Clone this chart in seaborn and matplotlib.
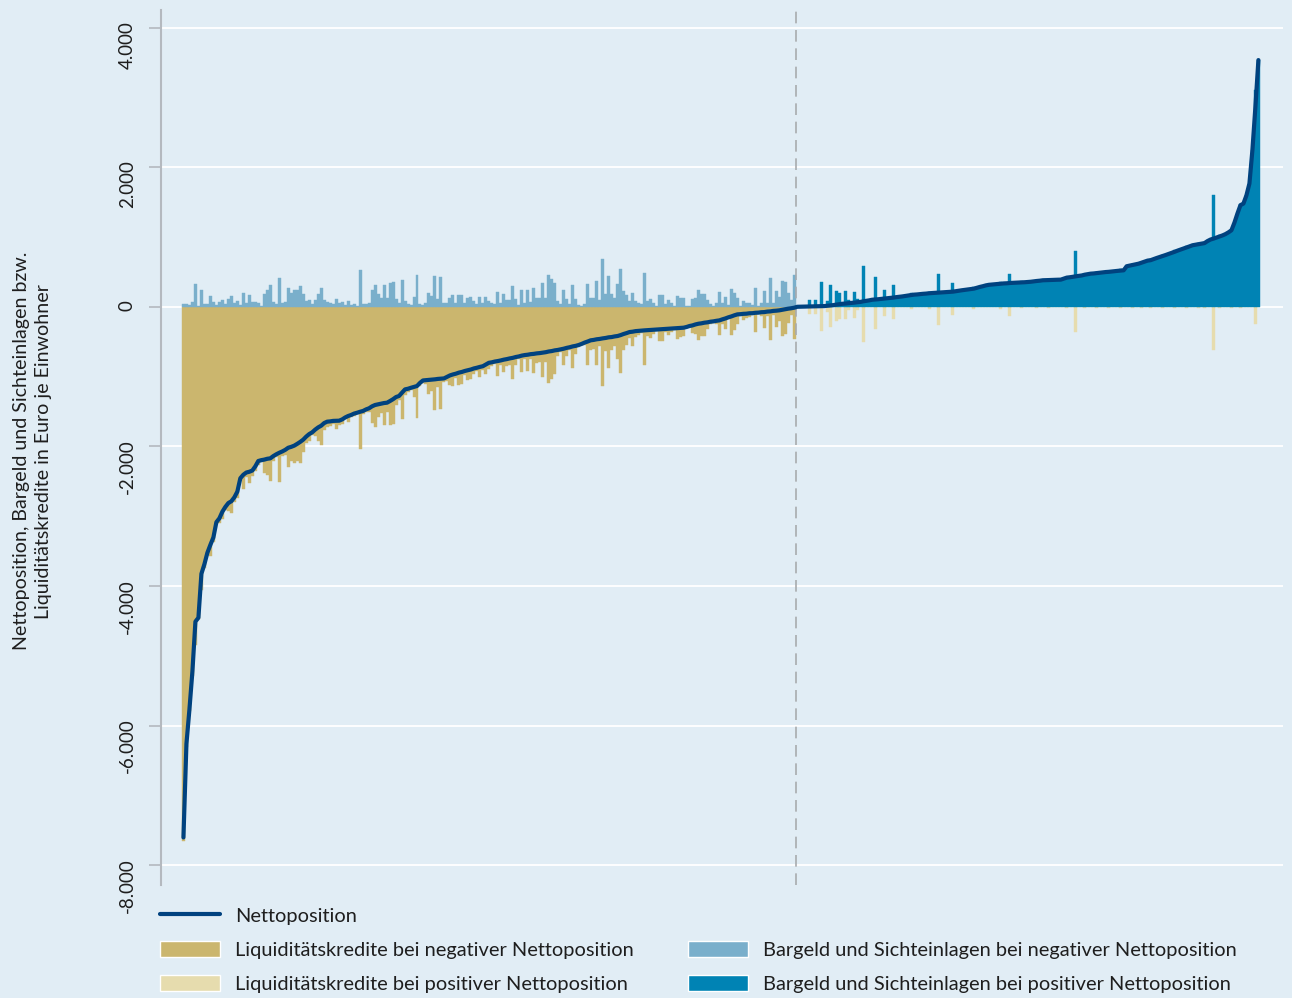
import numpy as np
import pandas as pd
import matplotlib
matplotlib.use("Agg")
import matplotlib.pyplot as plt
from matplotlib.lines import Line2D
from matplotlib.patches import Patch
import seaborn as sns

# Gemeinden mit negativer Nettoposition (sortiert), Euro je Einwohner
netto_neg = [
    -7605, -6263, -5770, -5222, -4510, -4455, -3825, -3688, -3523, -3410,
    -3304, -3085, -3030, -2935, -2866, -2811, -2785, -2729, -2647, -2455,
    -2405, -2373, -2362, -2345, -2285, -2208, -2196, -2188, -2176, -2170,
    -2138, -2112, -2090, -2071, -2048, -2018, -2005, -1988, -1962, -1934,
    -1902, -1858, -1822, -1797, -1758, -1726, -1702, -1664, -1644, -1640,
    -1633, -1632, -1630, -1612, -1584, -1563, -1548, -1528, -1516, -1502,
    -1490, -1468, -1452, -1424, -1405, -1396, -1386, -1377, -1372, -1348,
    -1322, -1291, -1276, -1228, -1181, -1172, -1158, -1146, -1133, -1088,
    -1053, -1049, -1045, -1040, -1037, -1031, -1028, -1024, -1002, -981,
    -967, -956, -941, -931, -917, -906, -896, -881, -871, -859,
    -849, -824, -800, -793, -782, -775, -766, -755, -747, -737,
    -729, -717, -709, -697, -689, -684, -676, -672, -665, -661,
    -655, -648, -638, -632, -622, -616, -607, -598, -586, -577,
    -565, -557, -545, -529, -510, -495, -478, -472, -463, -458,
    -450, -444, -435, -431, -422, -416, -403, -387, -374, -359,
    -354, -346, -342, -337, -335, -332, -330, -325, -323, -320,
    -318, -313, -312, -307, -306, -301, -300, -297, -287, -273,
    -264, -250, -240, -234, -225, -220, -211, -206, -198, -192,
    -177, -164, -148, -135, -119, -106, -103, -98, -96, -90,
    -89, -83, -81, -75, -73, -66, -63, -56, -53, -48,
    -40, -33, -24, -18, -10,
]
bargeld_neg = [
    48, 48, 24, 72, 335, 20, 239, 48, 38, 153,
    72, 30, 72, 105, 40, 115, 163, 60, 86, 30,
    206, 60, 167, 72, 72, 57, 20, 191, 239, 320,
    72, 40, 416, 60, 72, 273, 200, 249, 239, 296,
    182, 90, 96, 40, 96, 191, 277, 100, 72, 62,
    48, 120, 60, 72, 24, 81, 30, 40, 20, 535,
    40, 40, 60, 239, 315, 182, 134, 320, 134, 340,
    358, 110, 60, 382, 80, 48, 30, 143, 454, 40,
    30, 60, 201, 160, 440, 120, 430, 50, 60, 134,
    172, 60, 172, 177, 60, 134, 143, 80, 40, 143,
    60, 143, 86, 60, 40, 220, 60, 182, 96, 100,
    301, 110, 30, 239, 60, 239, 70, 277, 134, 134,
    349, 134, 454, 397, 340, 86, 40, 239, 110, 40,
    315, 110, 30, 20, 40, 335, 134, 134, 373, 100,
    683, 182, 445, 182, 134, 335, 540, 229, 172, 80,
    206, 86, 60, 40, 492, 86, 110, 60, 20, 172,
    172, 40, 96, 53, 20, 158, 134, 125, 20, 20,
    110, 134, 239, 180, 191, 96, 40, 20, 50, 215,
    60, 148, 30, 263, 206, 134, 20, 86, 60, 53,
    30, 277, 20, 60, 229, 60, 411, 60, 229, 150,
    373, 358, 206, 100, 454,
]

# Gemeinden mit positiver Nettoposition (sortiert)
netto_pos = [
    3, 4, 4, 6, 7, 7, 8, 9, 10, 13,
    17, 22, 27, 34, 40, 46, 49, 54, 58, 62,
    68, 72, 81, 88, 95, 104, 107, 111, 116, 121,
    125, 130, 134, 141, 146, 151, 158, 165, 171, 177,
    180, 185, 189, 192, 197, 200, 202, 206, 208, 212,
    214, 218, 220, 227, 233, 240, 246, 253, 258, 263,
    276, 288, 298, 310, 318, 322, 327, 331, 335, 338,
    340, 344, 346, 348, 351, 353, 355, 358, 362, 368,
    373, 377, 383, 384, 386, 388, 389, 391, 392, 406,
    421, 426, 433, 439, 446, 452, 463, 470, 478, 481,
    486, 490, 496, 501, 504, 509, 514, 518, 522, 526,
    584, 593, 603, 611, 621, 636, 651, 665, 671, 687,
    702, 716, 730, 745, 760, 776, 791, 808, 823, 837,
    853, 869, 885, 893, 901, 909, 916, 945, 967, 980,
    995, 1011, 1026, 1045, 1070, 1100, 1210, 1340, 1459, 1483,
    1600, 1770, 2250, 2870, 3540,
]
kredite_pos = [
    0, 0, 0, 0, 96, 0, 96, 0, 344, 0,
    72, 287, 0, 200, 167, 0, 177, 48, 0, 153,
    40, 0, 500, 0, 0, 0, 320, 0, 0, 129,
    0, 0, 177, 0, 0, 0, 0, 0, 24, 0,
    0, 0, 0, 0, 24, 0, 0, 263, 0, 0,
    0, 0, 120, 0, 0, 0, 0, 0, 0, 24,
    0, 0, 0, 0, 0, 0, 0, 0, 24, 0,
    0, 129, 0, 0, 0, 15, 0, 0, 0, 0,
    15, 0, 0, 0, 12, 0, 0, 0, 0, 0,
    15, 0, 0, 358, 0, 0, 15, 0, 0, 0,
    12, 0, 0, 0, 15, 0, 0, 0, 18, 0,
    0, 0, 15, 0, 0, 12, 0, 0, 20, 0,
    0, 0, 15, 0, 0, 0, 20, 0, 0, 0,
    15, 0, 0, 0, 18, 0, 15, 0, 0, 621,
    0, 15, 0, 0, 0, 12, 0, 0, 15, 0,
    0, 0, 0, 239, 0,
]

y_ticks = [-8000, -6000, -4000, -2000, 0, 2000, 4000]

BG = "#e1edf5"
TAN = "#cbb66e"
TAN_LIGHT = "#e6dcae"
BLUE_LIGHT = "#7aafcb"
BLUE = "#0083b4"
NAVY = "#00427f"
TEXT = "#1e1e1e"
SPINE = "#b4b9bf"

sns.set_theme(style="white", rc={"axes.facecolor": BG, "figure.facecolor": BG})
plt.rcParams["font.family"] = ["Lato", "DejaVu Sans"]

n_neg = len(netto_neg)
x_neg = np.arange(n_neg)
x_pos = np.arange(n_neg, n_neg + len(netto_pos))
kredite_neg = np.array(bargeld_neg) - np.array(netto_neg)
bargeld_pos = np.array(netto_pos) + np.array(kredite_pos)

df_line = pd.DataFrame({"pos": np.concatenate([x_neg, x_pos]),
                        "netto": netto_neg + netto_pos})

fig = plt.figure(figsize=(12.92, 9.98), dpi=100)
ax = fig.add_axes([0.1246, 0.1132, 0.8684, 0.8768])

bar_kw = dict(width=1.0, linewidth=0.3, zorder=2)
ax.bar(x_neg, -kredite_neg, color=TAN, edgecolor=TAN, **bar_kw)
ax.bar(x_neg, bargeld_neg, color=BLUE_LIGHT, edgecolor=BLUE_LIGHT, **bar_kw)
ax.bar(x_pos, -np.array(kredite_pos), color=TAN_LIGHT, edgecolor=TAN_LIGHT, **bar_kw)
ax.bar(x_pos, bargeld_pos, color=BLUE, edgecolor=BLUE, **bar_kw)

sns.lineplot(data=df_line, x="pos", y="netto", ax=ax, color=NAVY, lw=3,
             legend=False, zorder=4)

ax.axvline(n_neg - 0.5, color="#a8abae", lw=1.2, ls=(0, (7, 4)), zorder=3)

# axes styling
ax.set_xlim(-7.5, n_neg + len(netto_pos) + 7.2)
ax.set_ylim(-8287, 4258)
ax.set_yticks(y_ticks)
ax.set_yticklabels([f"{v:,}".replace(",", ".") for v in y_ticks])
ax.set_xticks([])
ax.set_xlabel("")
ax.set_ylabel("")
ax.grid(axis="y", color="white", lw=1.3)
ax.set_axisbelow(True)
for side in ["top", "right", "bottom"]:
    ax.spines[side].set_visible(False)
ax.spines["left"].set_color(SPINE)
ax.spines["left"].set_linewidth(1.5)
ax.tick_params(axis="y", left=True, length=9, width=1.2, color=SPINE,
               pad=9, labelsize=13.5, labelcolor=TEXT, labelrotation=90)

fig.text(0.0255, 0.548,
         "Nettoposition, Bargeld und Sichteinlagen bzw.\nLiquiditätskredite in Euro je Einwohner",
         rotation=90, ha="center", va="center", multialignment="center",
         fontsize=14.1, color=TEXT, linespacing=1.35)

handles = [
    Line2D([], [], color=NAVY, lw=3),
    Patch(facecolor=TAN),
    Patch(facecolor=TAN_LIGHT),
    Patch(facecolor="none", edgecolor="none"),
    Patch(facecolor=BLUE_LIGHT),
    Patch(facecolor=BLUE),
]
labels = [
    "Nettoposition",
    "Liquiditätskredite bei negativer Nettoposition",
    "Liquiditätskredite bei positiver Nettoposition",
    "",
    "Bargeld und Sichteinlagen bei negativer Nettoposition",
    "Bargeld und Sichteinlagen bei positiver Nettoposition",
]
fig.legend(handles, labels, loc="upper left", bbox_to_anchor=(160 / 1292, 1 - 907 / 998),
           ncol=2, frameon=False, fontsize=14.4, labelcolor=TEXT,
           handlelength=3.0, handleheight=0.85, handletextpad=0.75,
           columnspacing=2.7, labelspacing=0.8, borderpad=0, borderaxespad=0)

fig.savefig("out.png", dpi=100, facecolor=BG)
